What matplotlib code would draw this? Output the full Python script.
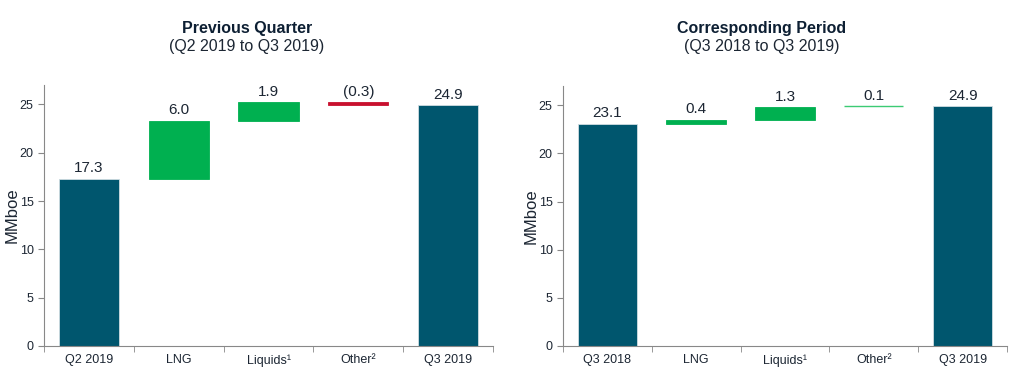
import numpy as np
import matplotlib.pyplot as plt

plt.rcParams["font.family"] = ["Liberation Sans", "DejaVu Sans"]

# data
left_labels = ["Q2 2019", "LNG", "Liquids\u00b9", "Other\u00b2", "Q3 2019"]
left_values = [17.3, 6.0, 1.9, -0.3, 24.9]
left_texts = ["17.3", "6.0", "1.9", "(0.3)", "24.9"]

right_labels = ["Q3 2018", "LNG", "Liquids\u00b9", "Other\u00b2", "Q3 2019"]
right_values = [23.1, 0.4, 1.3, 0.1, 24.9]
right_texts = ["23.1", "0.4", "1.3", "0.1", "24.9"]

TEAL = "#00566E"
GREEN = "#00B050"
RED = "#C8102E"
TEXT = "#1c2633"


def draw_waterfall(ax, labels, values, texts, thin_other=False):
    n = len(values)
    x = np.arange(n)
    running = 0.0
    for i, v in enumerate(values):
        if i == 0 or i == n - 1:
            bottom, height, color = 0, v, TEAL
            running = v
        else:
            if v >= 0:
                bottom, height, color = running, v, GREEN
            else:
                bottom, height, color = running + v, -v, RED
            running += v
        if thin_other and i == 3:
            ax.hlines(bottom + height, x[i] - 0.33, x[i] + 0.33, color="#3CCB74", lw=1)
        else:
            ax.bar(x[i], height, bottom=bottom, width=0.67, color=color,
                   edgecolor="#d0dde2" if color == TEAL else color, linewidth=0.6)
        top = bottom + height
        ax.text(x[i], top + 0.35, texts[i], ha="center", va="bottom",
                fontsize=11, color=TEXT)

    ax.set_xlim(-0.5, n - 0.5)
    ax.set_ylim(0, 27)
    ax.set_yticks([0, 5, 10, 15, 20, 25])
    ax.set_xticks(x)
    ax.set_xticklabels(labels, fontsize=9, color=TEXT)
    ax.set_xticks(np.arange(-0.5, n, 1), minor=True)
    ax.tick_params(axis="x", which="major", length=0, pad=6)
    ax.tick_params(axis="x", which="minor", length=4, color="#888888", direction="out")
    ax.tick_params(axis="y", labelsize=9, colors=TEXT, length=4, color="#888888")
    ax.set_ylabel("MMboe", fontsize=12, color=TEXT, labelpad=0)
    for side in ["top", "right"]:
        ax.spines[side].set_visible(False)
    for side in ["left", "bottom"]:
        ax.spines[side].set_color("#888888")
        ax.spines[side].set_linewidth(0.8)


fig = plt.figure(figsize=(10.21, 3.89), dpi=100)
W, H = 1021, 389
ax1 = fig.add_axes([44 / W, 1 - 346 / H, (493 - 44) / W, (346 - 85) / H])
ax2 = fig.add_axes([563 / W, 1 - 346 / H, (1007 - 563) / W, (346 - 86) / H])

draw_waterfall(ax1, left_labels, left_values, left_texts)
draw_waterfall(ax2, right_labels, right_values, right_texts, thin_other=True)

fig.text(247 / W, 1 - 28 / H, "Previous Quarter", ha="center", va="center",
         fontsize=11.5, fontweight="bold", color="#0d1f33")
fig.text(247 / W, 1 - 47 / H, "(Q2 2019 to Q3 2019)", ha="center", va="center",
         fontsize=11.5, color=TEXT)
fig.text(762 / W, 1 - 28 / H, "Corresponding Period", ha="center", va="center",
         fontsize=11.5, fontweight="bold", color="#0d1f33")
fig.text(762 / W, 1 - 47 / H, "(Q3 2018 to Q3 2019)", ha="center", va="center",
         fontsize=11.5, color=TEXT)

fig.savefig("out.png", dpi=100)
